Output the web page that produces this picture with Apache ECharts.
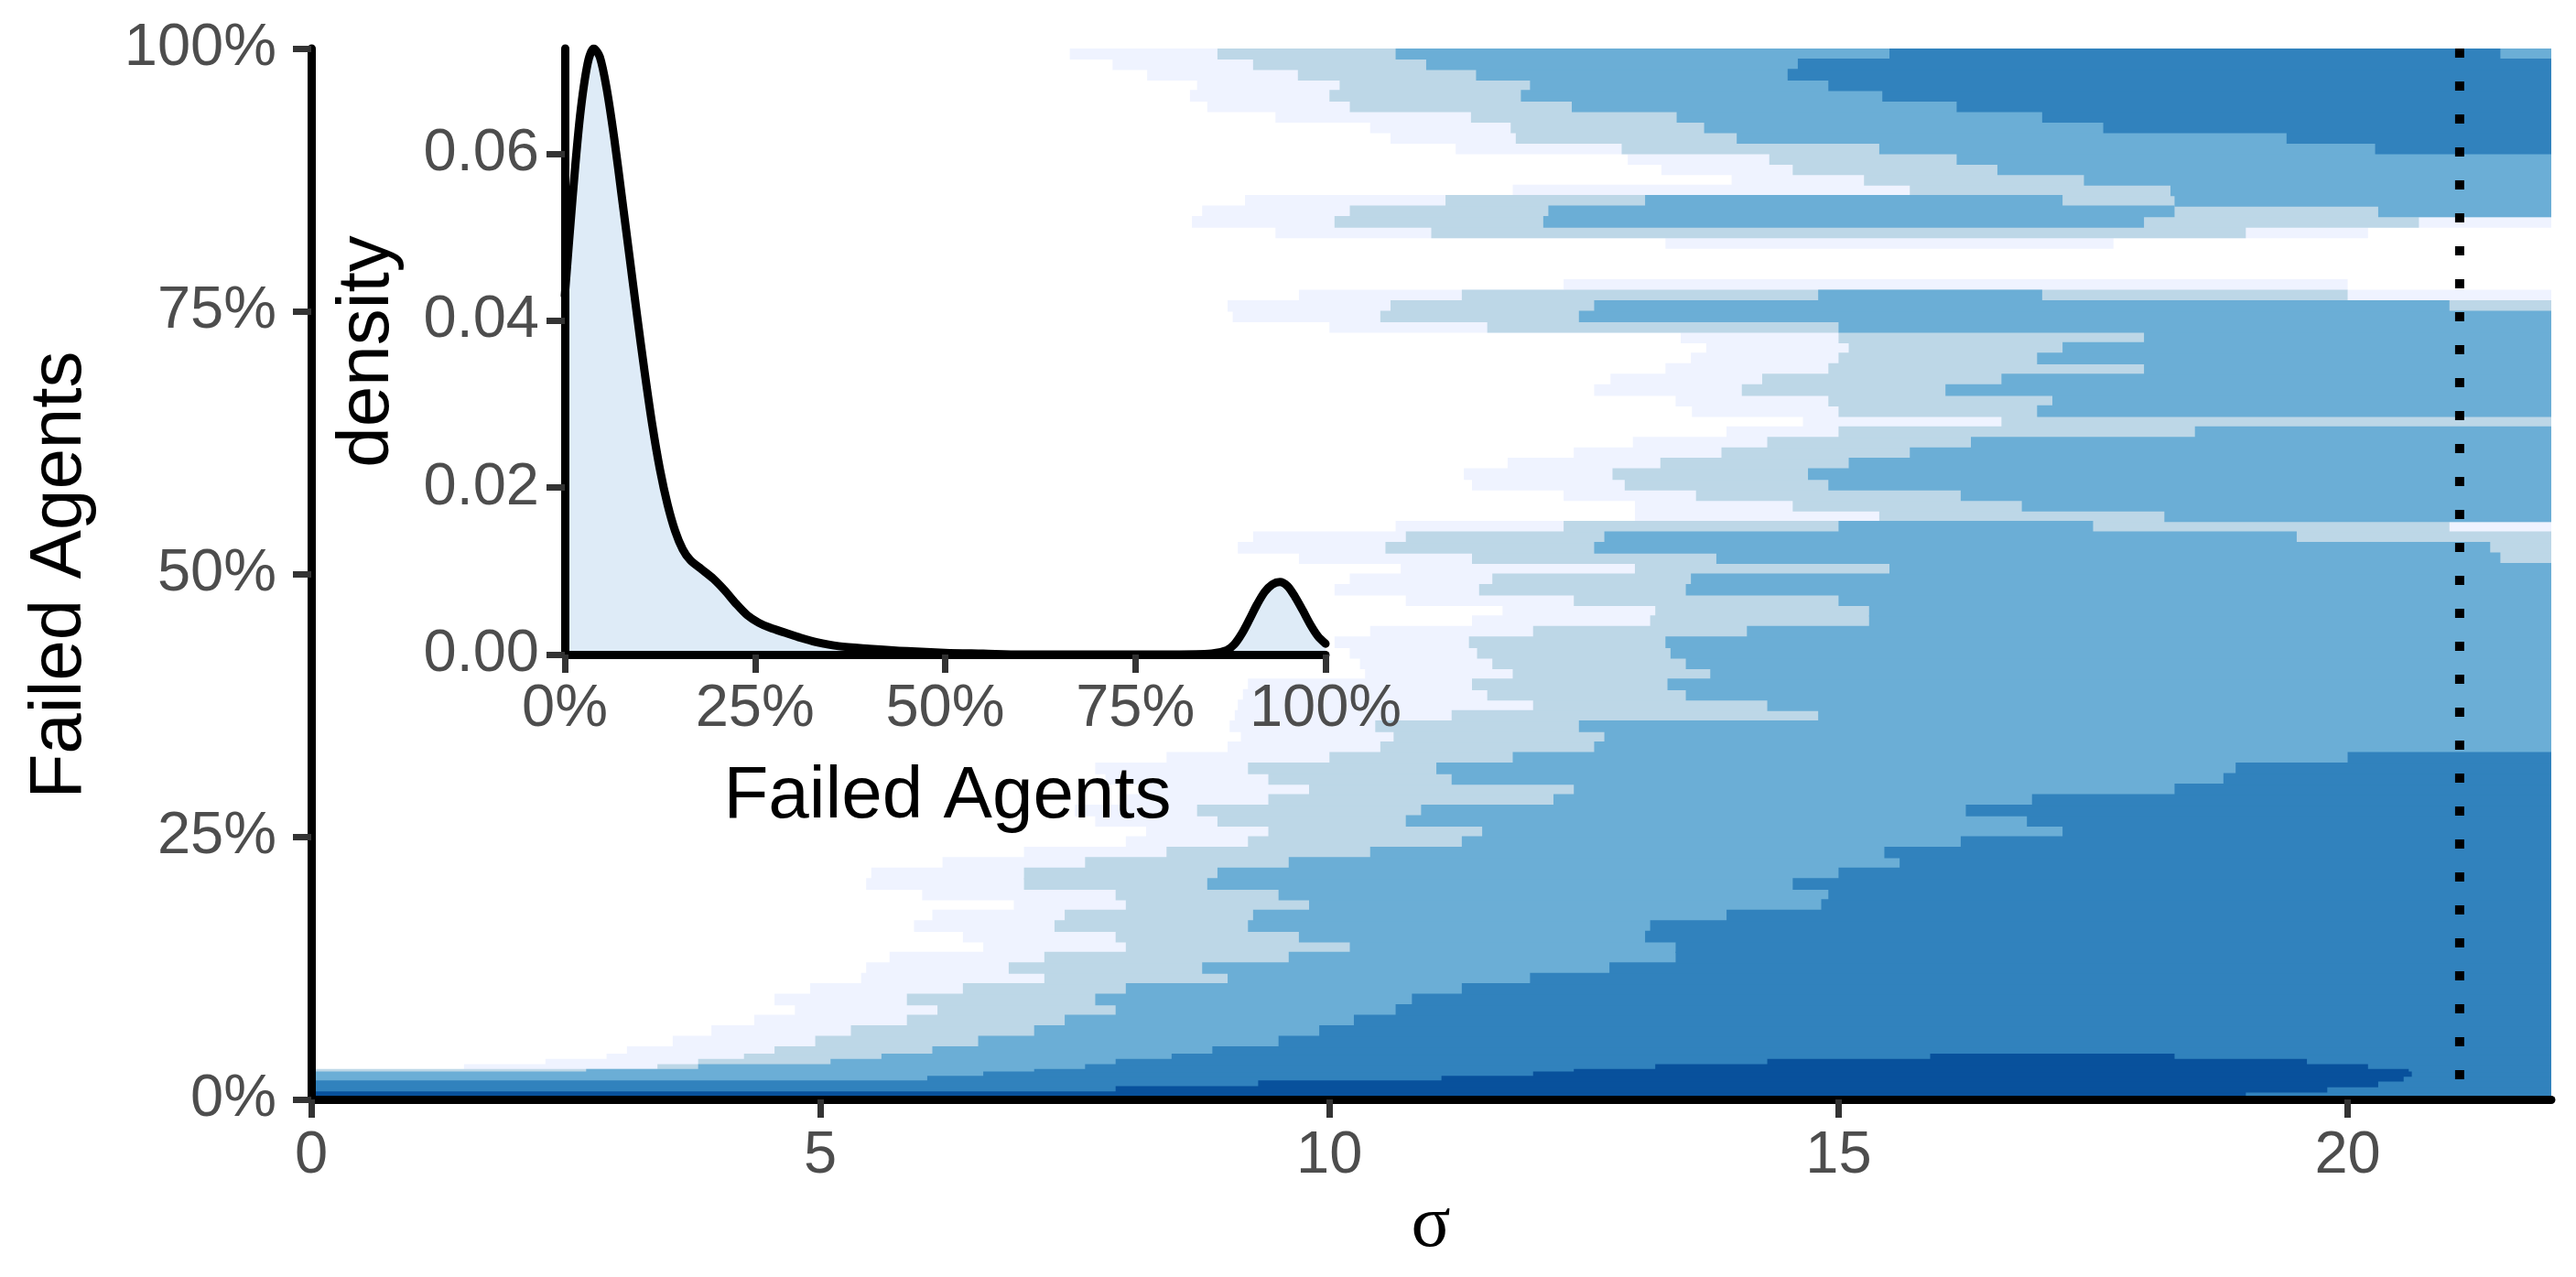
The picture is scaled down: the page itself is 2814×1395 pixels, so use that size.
<!DOCTYPE html>
<html><head><meta charset="utf-8">
<script src="https://cdn.jsdelivr.net/npm/echarts@6/dist/echarts.min.js"></script>
<style>html,body{margin:0;padding:0;background:#fff}#c{width:2814px;height:1395px}</style>
</head><body><div id="c"></div>
<script>
// ---------- DATA ----------
// Row bins of "Failed Agents" (%) used for the filled level regions
const rowEdges = [0,0.7,1.2,1.75,2.2,2.6,2.85,3.3,3.8,4.3,5,6,7,8,9,10,11,12,13,14,15,16,17,18,19,20,21,22,23,24,25,26,27,28,29,30,31,32,33,34,35,36,37,38,39,40,41,42,43,44,45,46,47,48,49,50,51,52,53,54,55,56,57,58,59,60,61,62,63,64,65,66,67,68,69,70,71,72,73,74,75,76,77,78,79,80,81,82,83,84,85,86,87,88,89,90,91,92,93,94,95,96,97,98,99,100];

// For each level: per row, sigma runs [start,end(,start2,end2)] or null
const lv1 = [
 null,null,null,null,null,null,
 [1.5,22],[2.3,22],[2.9,22],[3.1,22],
 [3.55,22],[3.93,22],[4.35,22],[4.75,22],[4.55,22],[4.9,22],[5.4,22],[5.45,22],[5.68,22],[6.6,22],
 [6.4,22],[5.92,22],[6.1,22],[6.9,22],[6.0,22],[5.45,22],[5.5,22],[6.2,22],[7.0,22],[8.0,22],
 [8.2,22],[7.7,22],[7.5,22],[8.0,22],[8.2,22],[7.8,22],[7.7,22],[8.4,22],[9.0,22],[9.13,22],
 [9.02,22],[9.07,22],[9.1,22],[9.15,22],[9.2,22],[10.35,22],[10.3,22],[10.2,22],[10.05,22],[10.4,22],
 [11.4,22],[11.7,22],[10.75,22],[10.05,22],[10.2,22],[10.7,22],[9.7,22],[9.1,22],[9.25,22],[10.65,22],
 [13.0,22],[13.0,22],[12.3,22],[11.4,22],[11.32,22],[11.75,22],[12.4,22],[12.98,22],[13.9,22],[14.65,22],
 [13.56,22],[13.4,22],[12.6,22],[12.76,22],[13.3,22],[13.55,22],[13.7,22],[13.45,22],[10.0,22],[9.05,22],
 [9.0,22],[9.7,22],[12.3,20.0],null,null,null,[13.3,17.7],[9.47,20.2],[8.65,22],[8.75,22],
 [9.17,22],[11.8,22],[13.95,22],[13.26,22],[12.93,22],[11.24,22],[10.6,22],[10.4,22],[9.47,22],[8.8,22],
 [8.63,22],[8.7,22],[8.21,22],[7.87,22],[7.45,22]
];
const lv2 = [
 null,null,null,null,null,
 [0,22],[3.4,22],[3.8,22],[4.25,22],[4.55,22],
 [4.95,22],[5.3,22],[5.85,22],[6.15,22],[5.85,22],[6.4,22],[7.2,22],[6.85,22],[7.2,22],[8.0,22],
 [7.9,22],[7.3,22],[7.4,22],[8.0,22],[7.9,22],[7.0,22],[7.0,22],[7.6,22],[8.4,22],[9.2,22],
 [9.4,22],[8.9,22],[8.7,22],[9.4,22],[9.8,22],[9.4,22],[9.2,22],[10.0,22],[10.5,22],[10.63,22],
 [10.45,22],[11.2,22],[12.0,22],[11.55,22],[11.4,22],[11.8,22],[11.6,22],[11.45,22],[11.37,22],[12.0,22],
 [13.15,22],[13.2,22],[12.4,22],[11.47,22],[11.6,22],[13.0,22],[11.4,22],[10.55,22],[10.75,22],[12.3,21.0],
 [15.4,22],[14.55,22],[13.6,22],[12.9,22],[12.78,22],[13.25,22],[13.85,22],[14.3,22],[15.0,22],[16.6,22],
 [15.0,22],[14.9,22],[14.05,22],[14.25,22],[14.9,22],[15.0,22],[15.1,22],[15.0,22],[11.55,22],[10.5,22],
 [10.6,22],[11.3,20.0],null,null,null,null,null,[11.0,19.0],[10.05,20.7],[10.2,22],
 [11.14,22],[15.7,22],[15.25,22],[14.55,22],[14.32,22],[12.87,22],[11.83,22],[11.78,22],[11.39,22],[10.2,22],
 [10.0,22],[10.1,22],[9.69,22],[9.25,22],[8.9,22]
];
const lv3 = [
 null,null,null,
 [0,22],[0,22],[2.7,22],[3.8,22],[5.1,22],[5.6,22],[6.1,22],
 [6.55,22],[7.1,22],[7.4,22],[7.9,22],[7.7,22],[8.0,22],[9.0,22],[8.75,22],[9.6,22],[10.2,22],
 [9.7,22],[9.2,22],[9.25,22],[9.8,22],[9.5,22],[8.8,22],[8.9,22],[9.6,22],[10.4,22],[11.3,22],
 [11.5,22],[10.75,22],[10.9,22],[12.2,22],[12.4,22],[11.2,22],[11.05,22],[11.8,22],[12.6,22],[12.7,22],
 [12.45,22],[14.8,22],[14.3,22],[13.5,22],[13.32,22],[13.74,22],[13.5,22],[13.35,22],[13.3,22],[14.1,22],
 [15.3,22],[15.3,22],[15.0,22],[13.5,22],[13.55,22],[15.5,22],[13.8,21.5],[12.6,21.4],[12.7,19.5],[15.0,17.5],
 [18.2,22],[16.8,22],[16.2,22],[14.9,22],[14.7,22],[15.1,22],[15.7,22],[16.3,22],[18.5,22],null,
 [16.95,22],[17.1,22],[16.05,22],[16.6,22],[18.0,22],[16.95,22],[17.2,22],[18.0,22],[15.0,22],[12.45,22],
 [12.6,21.0],[14.8,17.0],null,null,null,null,null,null,[12.1,18.0],[12.15,18.3,20.3,22],
 [13.1,17.2,18.3,22],[18.26,22],[17.41,22],[16.56,22],[16.16,22],[15.4,22],[14.0,22],[13.68,22],[13.41,22],[12.38,22],
 [11.88,22],[11.97,22],[11.44,22],[10.95,22],[10.65,22]
];
const lv4 = [
 [0,22],[0,22],[0,22],[6.05,22],[6.6,22],[7.1,22],[7.6,22],[7.9,22],[8.45,22],[8.85,22],
 [9.5,22],[9.9,22],[10.24,22],[10.65,22],[10.81,22],[11.3,22],[11.97,22],[12.75,22],[13.4,22],[13.4,22],
 [13.1,22],[13.15,22],[13.9,22],[14.83,22],[14.9,22],[14.55,22],[15.0,22],[15.6,22],[15.45,22],[16.2,22],
 [17.2,22],[16.85,22],[16.25,22],[16.9,22],[18.3,22],[18.78,22],[18.9,22],[20.0,22],null,null,
 null,null,null,null,null,null,null,null,null,null,
 null,null,null,null,null,null,null,null,null,null,
 null,null,null,null,null,null,null,null,null,null,
 null,null,null,null,null,null,null,null,null,null,
 null,null,null,null,null,null,null,null,null,null,
 null,null,null,null,null,[20.27,22],[19.4,22],[17.6,22],[17.0,22],[16.16,22],
 [15.43,22],[14.9,22],[14.5,22],[14.6,22],[15.5,21.5]
];
const lv5 = [[0,19.0],[7.9,19.8],[9.3,20.3],[11.1,20.55],[12.0,20.63],[12.4,20.6],[13.2,20.2],[14.3,19.6],[15.9,18.3]];

const levelColors = ['#eff3ff','#bdd7e7','#6baed6','#3182bd','#08519c'];
const vLineSigma = 21.1;
const xTicks = [0,5,10,15,20];
const yTicks = [0,25,50,75,100];

// Inset density of failed agents (fraction)
const densX = [0,0.01,0.02,0.03,0.038,0.046,0.055,0.065,0.075,0.085,0.095,0.105,0.115,0.125,0.135,0.145,0.155,0.165,0.18,0.195,0.21,0.225,0.24,0.255,0.27,0.29,0.31,0.33,0.36,0.4,0.45,0.5,0.55,0.6,0.7,0.8,0.85,0.87,0.88,0.89,0.9,0.91,0.92,0.93,0.94,0.95,0.96,0.97,0.98,0.99,1.0];
const densY = [0.043,0.0545,0.0645,0.0708,0.0726,0.0716,0.0678,0.0618,0.0548,0.0477,0.0406,0.0338,0.0275,0.0222,0.018,0.0148,0.0126,0.0113,0.0102,0.0091,0.0077,0.0061,0.0047,0.0038,0.0032,0.0026,0.002,0.0015,0.001,0.0007,0.0004,0.0002,0.0001,0,0,0,0.0001,0.0005,0.0012,0.0025,0.0042,0.006,0.0075,0.0084,0.0087,0.0082,0.0069,0.0053,0.0036,0.0022,0.0013];
const insetXTicks = [0,0.25,0.5,0.75,1];
const insetYTicks = [0,0.02,0.04,0.06];

// ---------- CHART ----------
const FONT = '"Liberation Sans", Arial, Helvetica, sans-serif';
const chart = echarts.init(document.getElementById('c'), null, {renderer:'canvas', width:2814, height:1395});

function levelSeries(runs, color) {
  const data = [];
  runs.forEach((r, i) => {
    if (!r) return;
    for (let k = 0; k < r.length; k += 2) data.push([r[k], r[k+1], rowEdges[i], rowEdges[i+1]]);
  });
  return {
    type:'custom', coordinateSystem:'cartesian2d', xAxisIndex:0, yAxisIndex:0,
    silent:true, animation:false, z:1, clip:true,
    encode:{x:[0,1], y:[2,3]},
    renderItem(params, api) {
      const a = api.coord([api.value(0), api.value(3)]);
      const b = api.coord([api.value(1), api.value(2)]);
      return {type:'rect', shape:{x:a[0], y:a[1]-0.6, width:b[0]-a[0], height:b[1]-a[1]+1.2}, style:{fill:color}};
    },
    data
  };
}

const axisLineStyle = {color:'#000', width:9};
const tickStyle = {color:'#333333', width:7};
const labelBase = {fontSize:65, color:'#4d4d4d', fontFamily:FONT};

const option = {
  animation:false,
  backgroundColor:'#ffffff',
  grid:[
    {left:340, right:27, top:53, bottom:194},
    {left:617, top:53, width:831, height:662}
  ],
  xAxis:[
    {gridIndex:0, type:'value', min:0, max:22, z:5,
     axisLine:{show:true, onZero:false, lineStyle:axisLineStyle},
     axisTick:{show:true, length:20, lineStyle:tickStyle, customValues:xTicks},
     axisLabel:Object.assign({customValues:xTicks, margin:30}, labelBase),
     splitLine:{show:false}},
    {gridIndex:1, type:'value', min:0, max:1, z:7,
     axisLine:{show:true, onZero:false, lineStyle:axisLineStyle},
     axisTick:{show:true, length:20, lineStyle:tickStyle, customValues:insetXTicks},
     axisLabel:Object.assign({customValues:insetXTicks, margin:28, formatter:v=>Math.round(v*100)+'%'}, labelBase),
     splitLine:{show:false}}
  ],
  yAxis:[
    {gridIndex:0, type:'value', min:0, max:100, z:5,
     axisLine:{show:true, onZero:false, lineStyle:axisLineStyle},
     axisTick:{show:true, length:20, lineStyle:tickStyle, customValues:yTicks},
     axisLabel:Object.assign({customValues:yTicks, margin:38, formatter:v=>v+'%'}, labelBase),
     splitLine:{show:false}},
    {gridIndex:1, type:'value', min:0, max:0.0726, z:7,
     axisLine:{show:true, onZero:false, lineStyle:axisLineStyle},
     axisTick:{show:true, length:20, lineStyle:tickStyle, customValues:insetYTicks},
     axisLabel:Object.assign({customValues:insetYTicks, margin:28, formatter:v=>v.toFixed(2)}, labelBase),
     splitLine:{show:false}}
  ],
  series:[
    levelSeries(lv1, levelColors[0]),
    levelSeries(lv2, levelColors[1]),
    levelSeries(lv3, levelColors[2]),
    levelSeries(lv4, levelColors[3]),
    levelSeries(lv5, levelColors[4]),
    {type:'line', xAxisIndex:0, yAxisIndex:0, z:3, silent:true, symbol:'none',
     data:[[vLineSigma,100],[vLineSigma,0]],
     lineStyle:{color:'#000', width:10, type:[10,26], cap:'butt'}},
    {type:'line', xAxisIndex:1, yAxisIndex:1, z:6, silent:true, symbol:'none',
     smooth:0.3,
     data:densX.map((x,i)=>[x,densY[i]]),
     lineStyle:{color:'#000', width:9, join:'round', cap:'round'},
     areaStyle:{color:'#deebf7', opacity:1, origin:'start'}}
  ],
  graphic:[
    {type:'text', x:66, y:628, rotation:Math.PI/2, z:10,
     style:{text:'Failed Agents', font:'80px '+FONT, fill:'#000', align:'center', verticalAlign:'middle'}},
    {type:'text', x:1563, y:1340, z:10,
     style:{text:'σ', font:'80px "Liberation Serif", "DejaVu Serif", serif', fill:'#000', align:'center', verticalAlign:'middle'}},
    {type:'text', x:402, y:384, rotation:Math.PI/2, z:10,
     style:{text:'density', font:'80px '+FONT, fill:'#000', align:'center', verticalAlign:'middle'}},
    {type:'text', x:1035, y:871, z:10,
     style:{text:'Failed Agents', font:'80px '+FONT, fill:'#000', align:'center', verticalAlign:'middle'}}
  ]
};
chart.setOption(option);
</script>
</body></html>
